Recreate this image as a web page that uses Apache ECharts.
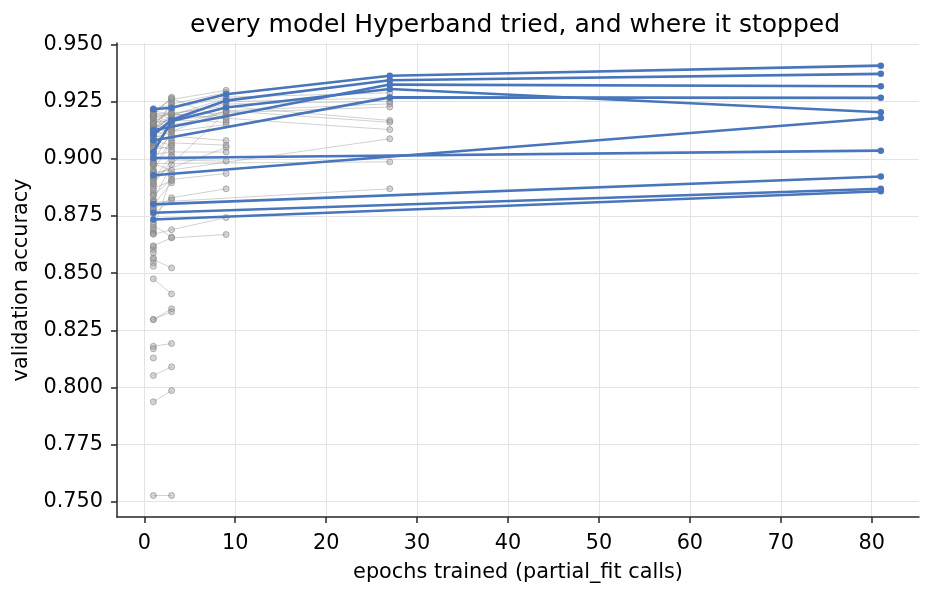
<!DOCTYPE html>
<html>
<head>
<meta charset="utf-8">
<title>Hyperband models</title>
<script src="https://cdn.jsdelivr.net/npm/echarts@6/dist/echarts.min.js"></script>
<style>
    html, body { margin: 0; padding: 0; background: #fff; }
    #hyperband_chart { width: 932px; height: 594px; }
</style>
</head>
<body>
<div id="hyperband_chart"></div>
<script>
// ------------------------------
// Data: validation accuracy per model at each Hyperband stage
// ------------------------------

// epoch stages (partial_fit calls); null in a run = stage skipped
var epochStages = [1, 3, 9, 27, 81];

var xTicks = [0, 10, 20, 30, 40, 50, 60, 70, 80];
var yTicks = [0.750, 0.775, 0.800, 0.825, 0.850, 0.875, 0.900, 0.925, 0.950];

// models stopped after 1 epoch
var stoppedAt1 = [
    0.921, 0.919, 0.918, 0.916, 0.915, 0.914, 0.913, 0.912, 0.911, 0.910,
    0.909, 0.907, 0.906, 0.905, 0.903, 0.902, 0.901, 0.899, 0.898, 0.897,
    0.895, 0.894, 0.892, 0.891, 0.889, 0.888, 0.886, 0.885, 0.884, 0.882,
    0.881, 0.879, 0.878, 0.877, 0.872, 0.870, 0.868, 0.8673, 0.8615, 0.8603,
    0.8589, 0.8567, 0.8545, 0.853, 0.8169, 0.8129
];

// models stopped after 3 epochs: [acc@1, acc@3]
var stoppedAt3 = [
    [0.856, 0.8523], [0.8475, 0.8409], [0.8297, 0.8344], [0.8297, 0.8331],
    [0.818, 0.8192], [0.8052, 0.809], [0.7937, 0.7986], [0.7527, 0.7527],
    [0.871, 0.8658], [0.876, 0.882], [0.880, 0.8895], [0.887, 0.8905],
    [0.869, 0.8925], [0.892, 0.8935], [0.898, 0.895], [0.882, 0.8975],
    [0.900, 0.901], [0.891, 0.9015], [0.906, 0.904], [0.904, 0.9055],
    [0.908, 0.906], [0.897, 0.908], [0.910, 0.909], [0.912, 0.9105],
    [0.913, 0.912], [0.915, 0.913], [0.917, 0.9135], [0.909, 0.9145],
    [0.918, 0.915], [0.919, 0.916], [0.920, 0.9175], [0.914, 0.918],
    [0.921, 0.9195], [0.916, 0.921], [0.922, 0.9235], [0.911, 0.925],
    [0.919, 0.927]
];

// models stopped after 9 epochs: [acc@1, acc@3, acc@9]
var stoppedAt9 = [
    [0.921, 0.926, 0.930], [0.914, 0.924, 0.929], [0.912, 0.919, 0.9265],
    [0.905, 0.915, 0.918], [0.910, 0.917, 0.916], [0.916, null, 0.9195],
    [0.899, 0.912, 0.915], [0.920, 0.9265, 0.917], [0.903, 0.910, 0.908],
    [0.895, 0.907, 0.906], [0.893, null, 0.905], [0.902, 0.903, 0.903],
    [0.889, 0.8995, 0.899], [0.884, 0.891, 0.8936], [0.878, 0.883, 0.8869],
    [0.867, 0.869, 0.8743], [0.862, 0.8654, 0.8669], [0.890, null, 0.9205]
];

// models stopped after 27 epochs: [acc@1, acc@3, acc@9, acc@27]
var stoppedAt27 = [
    [0.915, 0.922, 0.927, 0.9289], [0.913, 0.918, 0.925, 0.9267],
    [0.918, null, 0.924, 0.9252], [0.907, 0.914, 0.921, 0.9241],
    [0.919, null, null, 0.9227], [0.911, 0.920, 0.923, 0.9168],
    [0.909, null, 0.921, 0.916], [0.920, null, null, 0.9128],
    [0.894, null, null, 0.9088], [0.898, null, null, 0.8987],
    [0.881, null, null, 0.8869]
];

// models trained to the full 81 epochs: [acc@1, acc@3, acc@9, acc@27, acc@81]
var finished81 = [
    [0.9217, 0.9224, 0.9283, 0.9364, 0.9408],
    [0.9105, 0.9170, 0.9255, 0.9344, 0.9372],
    [0.9030, 0.9165, 0.9225, 0.9306, 0.9204],
    [0.9125, null, null, 0.9325, 0.9318],
    [0.9080, null, null, 0.9269, 0.9267],
    [0.9004, null, null, null, 0.9036],
    [0.8928, null, null, null, 0.9179],
    [0.8801, null, null, null, 0.8923],
    [0.8764, null, null, null, 0.8869],
    [0.8735, null, null, null, 0.8858]
];


// Setup module
// ------------------------------

var HyperbandChart = function() {

    var fontFamily = 'DejaVu Sans, sans-serif';
    var greyLine = 'rgba(145,145,145,0.42)';
    var greyFill = 'rgba(150,150,150,0.4)';
    var greyEdge = 'rgba(125,125,125,0.55)';
    var blue = '#4875bb';

    // turn a run of stage accuracies into [epoch, acc] points
    var toPoints = function(run) {
        var pts = [];
        run.forEach(function(acc, i) {
            if (acc !== null) {
                pts.push([epochStages[i], acc]);
            }
        });
        return pts;
    };

    var greySeries = function(run) {
        return {
            type: 'line',
            data: toPoints(run),
            silent: true,
            symbol: 'circle',
            symbolSize: 6,
            showAllSymbol: true,
            lineStyle: { color: greyLine, width: 1 },
            itemStyle: { color: greyFill, borderColor: greyEdge, borderWidth: 1 },
            z: 2
        };
    };

    var blueSeries = function(run) {
        return {
            type: 'line',
            data: toPoints(run),
            silent: true,
            symbol: 'circle',
            symbolSize: 6.5,
            showAllSymbol: true,
            lineStyle: { color: blue, width: 2.6 },
            itemStyle: { color: blue, borderWidth: 0 },
            z: 3
        };
    };

    var _buildChart = function() {
        if (typeof echarts == 'undefined') {
            console.warn('Warning - echarts.min.js is not loaded.');
            return;
        }

        var chart_element = document.getElementById('hyperband_chart');
        if (!chart_element) return;

        var chart = echarts.init(chart_element, null, { renderer: 'canvas' });

        // Build series: grey (stopped) first, blue (finished) on top
        var series = [];
        stoppedAt1.forEach(function(a) { series.push(greySeries([a])); });
        stoppedAt3.forEach(function(r) { series.push(greySeries(r)); });
        stoppedAt9.forEach(function(r) { series.push(greySeries(r)); });
        stoppedAt27.forEach(function(r) { series.push(greySeries(r)); });
        finished81.forEach(function(r) { series.push(blueSeries(r)); });

        var axisLineStyle = { color: '#262626', width: 1.5 };
        var gridLineStyle = { color: '#e3e3e3', width: 1.1 };

        chart.setOption({
            animation: false,
            textStyle: { fontFamily: fontFamily },

            title: {
                text: 'every model Hyperband tried, and where it stopped',
                left: 190,
                top: 13,
                padding: 0,
                textStyle: {
                    fontFamily: fontFamily,
                    fontSize: 25,
                    fontWeight: 'normal',
                    color: '#000'
                }
            },

            grid: {
                left: 117,
                right: 13,
                top: 43,
                bottom: 77,
                containLabel: false
            },

            // Horizontal axis
            xAxis: {
                type: 'value',
                min: -3,
                max: 85.2,
                name: 'epochs trained (partial_fit calls)',
                nameLocation: 'middle',
                nameGap: 45,
                nameTextStyle: { fontFamily: fontFamily, fontSize: 20.8, color: '#000' },
                axisLine: { show: true, onZero: false, lineStyle: axisLineStyle },
                axisTick: { show: true, length: 6, lineStyle: axisLineStyle, customValues: xTicks },
                axisLabel: {
                    customValues: xTicks,
                    margin: 16,
                    fontFamily: fontFamily,
                    fontSize: 20.8,
                    color: '#000'
                },
                splitLine: { show: true, lineStyle: gridLineStyle }
            },

            // Vertical axis
            yAxis: {
                type: 'value',
                min: 0.7433,
                max: 0.9507,
                name: 'validation accuracy',
                nameLocation: 'middle',
                nameGap: 78,
                nameTextStyle: { fontFamily: fontFamily, fontSize: 20.8, color: '#000' },
                axisLine: { show: true, onZero: false, lineStyle: axisLineStyle },
                axisTick: { show: true, length: 6, lineStyle: axisLineStyle, customValues: yTicks },
                axisLabel: {
                    customValues: yTicks,
                    margin: 14,
                    fontFamily: fontFamily,
                    fontSize: 20.8,
                    color: '#000',
                    formatter: function(v) { return v.toFixed(3); }
                },
                splitLine: { show: true, lineStyle: gridLineStyle }
            },

            series: series
        });
    };

    return {
        init: function() {
            _buildChart();
        }
    };
}();


// Initialize module
// ------------------------------

document.addEventListener('DOMContentLoaded', function() {
    HyperbandChart.init();
});
</script>
</body>
</html>
